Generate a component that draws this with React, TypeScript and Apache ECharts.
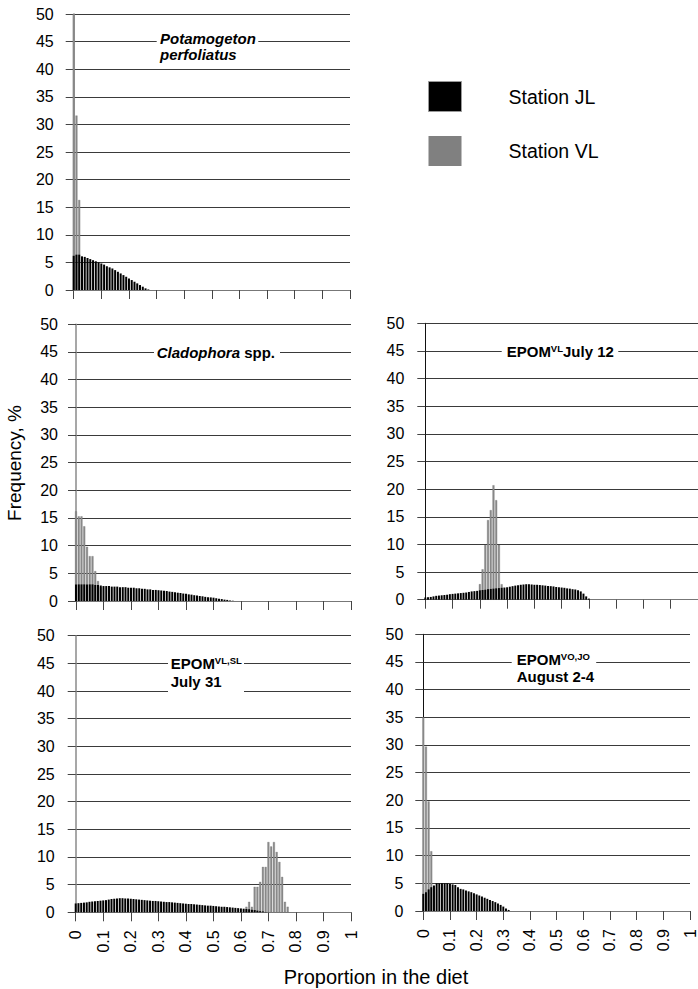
import React, { useEffect, useRef } from 'react';
import * as echarts from 'echarts';

const FONT = "'Liberation Sans', Arial, Helvetica, sans-serif";

// ---------- data (frequency, % per diet-proportion bin of 0.01) ----------
const seriesNames = ['Station JL', 'Station VL'];

// Potamogeton perfoliatus
const potamogetonJLStart = 0;
const potamogetonJL = [6.2, 6.4, 6.4, 6.1, 6.0, 5.8, 5.6, 5.4, 5.2, 5.0, 4.8, 4.6, 4.3, 4.1, 3.9, 3.6, 3.3, 3.0, 2.7, 2.4, 2.1, 1.8, 1.5, 1.2, 0.9, 0.6, 0.3, 0.1];
const potamogetonVLStart = 0;
const potamogetonVL = [50, 31.6, 16.3];

// Cladophora spp.
const cladophoraJLStart = 0;
const cladophoraJL = [3.0, 3.0, 3.0, 3.0, 3.0, 3.0, 3.0, 2.9, 2.9, 2.8, 2.7, 2.7, 2.7, 2.6, 2.6, 2.6, 2.5, 2.5, 2.5, 2.4, 2.4, 2.4, 2.3, 2.3, 2.2, 2.2, 2.1, 2.1, 2.0, 2.0, 1.95, 1.9, 1.85, 1.8, 1.7, 1.65, 1.6, 1.5, 1.45, 1.35, 1.3, 1.2, 1.15, 1.05, 1.0, 0.9, 0.85, 0.75, 0.7, 0.65, 0.6, 0.5, 0.4, 0.35, 0.25, 0.2, 0.1, 0.05];
const cladophoraVLStart = 0;
const cladophoraVL = [16.2, 15.3, 15.3, 13.5, 9.8, 8.1, 8.1, 5.4, 3.6, 2.5];

// EPOM VL July 12
const july12JLStart = 0;
const july12JL = [0.4, 0.45, 0.5, 0.6, 0.7, 0.75, 0.8, 0.85, 0.9, 1.0, 1.05, 1.1, 1.15, 1.2, 1.25, 1.3, 1.4, 1.5, 1.55, 1.6, 1.7, 1.75, 1.8, 1.9, 1.95, 2.0, 2.05, 2.1, 2.15, 2.2, 2.25, 2.35, 2.45, 2.55, 2.6, 2.7, 2.75, 2.8, 2.8, 2.75, 2.7, 2.7, 2.65, 2.6, 2.55, 2.5, 2.45, 2.4, 2.3, 2.25, 2.2, 2.15, 2.05, 2.0, 1.9, 1.85, 1.7, 1.5, 1.1, 0.6, 0.2];
const july12VLStart = 20;
const july12VL = [2.8, 5.5, 9.9, 14.4, 16.2, 20.7, 18.0, 9.9, 2.8];

// EPOM VL,SL July 31
const july31JLStart = 0;
const july31JL = [1.6, 1.65, 1.7, 1.75, 1.8, 1.9, 1.95, 2.0, 2.05, 2.1, 2.15, 2.2, 2.3, 2.4, 2.45, 2.5, 2.55, 2.55, 2.5, 2.5, 2.45, 2.4, 2.35, 2.3, 2.25, 2.2, 2.15, 2.1, 2.05, 2.05, 2.0, 1.95, 1.9, 1.85, 1.85, 1.8, 1.75, 1.7, 1.65, 1.6, 1.55, 1.5, 1.5, 1.45, 1.4, 1.35, 1.3, 1.25, 1.2, 1.2, 1.15, 1.1, 1.05, 1.0, 1.0, 0.95, 0.9, 0.85, 0.8, 0.75, 0.7, 0.65, 0.6, 0.55, 0.45, 0.4, 0.3, 0.2, 0.15, 0.05];
const july31VLStart = 62;
const july31VL = [1.0, 1.9, 1.0, 4.6, 4.6, 5.5, 8.2, 8.2, 12.7, 11.9, 12.7, 10.9, 9.1, 6.4, 1.9, 1.0];

// EPOM VO,JO August 2-4
const augustJLStart = 0;
const augustJL = [3.1, 3.4, 3.9, 4.3, 4.6, 5.0, 5.0, 5.0, 5.0, 5.0, 4.9, 4.8, 4.7, 4.3, 4.0, 3.9, 3.7, 3.55, 3.4, 3.2, 3.0, 2.8, 2.6, 2.4, 2.2, 2.0, 1.8, 1.6, 1.35, 1.1, 0.8, 0.45, 0.2];
const augustVLStart = 0;
const augustVL = [35.0, 29.7, 19.8, 10.8, 4.5];

const yTicks = { min: 0, max: 50, interval: 5 };
const xTicks = { min: 0, max: 1, interval: 0.1 };
const binsPerUnit = 100;

// ---------- layout ----------
const panels = [
  { left: 73.7, top: 14, width: 276.3, height: 276, labels: false, axisColor: '#8a8a8a', yMargin: 20,
    jl: potamogetonJL, jlStart: potamogetonJLStart, vl: potamogetonVL, vlStart: potamogetonVLStart },
  { left: 76, top: 324.3, width: 275, height: 276.7, labels: false, axisColor: '#8a8a8a', yMargin: 18,
    jl: cladophoraJL, jlStart: cladophoraJLStart, vl: cladophoraVL, vlStart: cladophoraVLStart },
  { left: 425.3, top: 323.3, width: 276.3, height: 276.4, labels: false, axisColor: '#111', yMargin: 21,
    jl: july12JL, jlStart: july12JLStart, vl: july12VL, vlStart: july12VLStart },
  { left: 75.7, top: 635.7, width: 275.3, height: 276.6, labels: true, axisColor: '#8a8a8a', yMargin: 21,
    jl: july31JL, jlStart: july31JLStart, vl: july31VL, vlStart: july31VLStart },
  { left: 423.3, top: 634.3, width: 275.8, height: 276.7, labels: true, axisColor: '#111', yMargin: 20,
    jl: augustJL, jlStart: augustJLStart, vl: augustVL, vlStart: augustVLStart },
];

const rich = {
  bi: { fontSize: 15, fontWeight: 'bold', fontStyle: 'italic', fontFamily: FONT, lineHeight: 16, fill: '#000' },
  b: { fontSize: 15, fontWeight: 'bold', fontFamily: FONT, lineHeight: 16, fill: '#000' },
  s: { fontSize: 9.5, fontWeight: 'bold', fontFamily: FONT, lineHeight: 8, verticalAlign: 'top', fill: '#000' },
};

const titles = [
  { box: [156.7, 33, 101.6, 31], lines: [[160, 38.5, '{bi|Potamogeton}'], [160, 54, '{bi|perfoliatus}']] },
  { box: [154, 345, 126, 14], lines: [[156.7, 352, '{bi|Cladophora}{b| spp.}']] },
  { box: [501.7, 344, 116.6, 14], lines: [[506.7, 351.5, '{b|EPOM}{s|VL}{b|July 12}']] },
  { box: [168, 655, 76, 39], lines: [[170.7, 663.5, '{b|EPOM}{s|VL,SL}'], [170.7, 681.5, '{b|July 31}']] },
  { box: [511.7, 652, 84.5, 33], lines: [[516.7, 659.5, '{b|EPOM}{s|VO,JO}'], [516.7, 676.5, '{b|August 2-4}']] },
];

function toPairs(values: number[], start: number) {
  return values.map((v, i) => [(start + i) / binsPerUnit, v]);
}

export default function App() {
  const ref = useRef<HTMLDivElement>(null);
  useEffect(() => {
    if (!ref.current) return;
    const chart = echarts.init(ref.current, undefined, { renderer: 'svg' });

    const grid = panels.map((p) => ({ left: p.left, top: p.top, width: p.width, height: p.height, containLabel: false }));
    const xAxis = panels.map((p, i) => ({
      type: 'value', gridIndex: i, min: xTicks.min, max: xTicks.max, interval: xTicks.interval,
      axisLine: { show: true, onZero: false, lineStyle: { color: '#777', width: 1 } },
      axisTick: { show: true, inside: false, length: 9, lineStyle: { color: '#444' } },
      axisLabel: {
        show: p.labels, rotate: 90, margin: 18, fontSize: 16, color: '#000', fontFamily: FONT,
        formatter: (v: number) => String(Math.round(v * 10) / 10),
      },
      splitLine: { show: false },
    }));
    const yAxis = panels.map((p, i) => ({
      type: 'value', gridIndex: i, min: yTicks.min, max: yTicks.max, interval: yTicks.interval,
      axisLine: { show: true, lineStyle: { color: p.axisColor, width: p.axisColor === '#111' ? 1 : 1.5 } },
      axisTick: { show: true, inside: false, length: 8, lineStyle: { color: '#444' } },
      axisLabel: { margin: p.yMargin, fontSize: 16, color: '#000', fontFamily: FONT },
      splitLine: { show: true, lineStyle: { color: '#3a3a3a', width: 1 } },
    }));
    const series: any[] = [];
    panels.forEach((p, i) => {
      series.push({
        type: 'bar', name: seriesNames[1], xAxisIndex: i, yAxisIndex: i,
        data: toPairs(p.vl, p.vlStart), barWidth: '72%', barGap: '-100%',
        itemStyle: { color: '#8c8c8c', borderColor: '#6e6e6e', borderWidth: 0.3 },
        clip: false,
      });
      series.push({
        type: 'bar', name: seriesNames[0], xAxisIndex: i, yAxisIndex: i,
        data: toPairs(p.jl, p.jlStart), barWidth: '72%', barGap: '-100%',
        itemStyle: { color: '#000' },
        clip: false,
      });
    });

    const graphic: any[] = [];
    titles.forEach((t) => {
      graphic.push({
        type: 'rect', z: 100, shape: { x: t.box[0], y: t.box[1], width: t.box[2], height: t.box[3] },
        style: { fill: '#fff' },
      });
      t.lines.forEach((l) => {
        graphic.push({
          type: 'text', z: 101, x: l[0] as number, y: l[1] as number,
          style: { text: l[2] as string, rich, verticalAlign: 'middle', align: 'left', fill: '#000' },
        });
      });
    });
    graphic.push({
      type: 'text', z: 101, x: 14, y: 463, rotation: Math.PI / 2,
      style: { text: 'Frequency, %', fontSize: 19, fontFamily: FONT, fill: '#000', align: 'center', verticalAlign: 'middle' },
    });
    graphic.push({
      type: 'text', z: 101, x: 376, y: 977,
      style: { text: 'Proportion in the diet', fontSize: 20, fontFamily: FONT, fill: '#000', align: 'center', verticalAlign: 'middle' },
    });

    chart.setOption({
      animation: false,
      backgroundColor: '#fff',
      textStyle: { fontFamily: FONT },
      grid, xAxis, yAxis, series, graphic,
      legend: {
        orient: 'vertical', left: 423, top: 76, itemWidth: 33, itemHeight: 30, itemGap: 24,
        icon: 'rect', selectedMode: false,
        data: [
          { name: seriesNames[0], itemStyle: { color: '#000', borderColor: '#999', borderWidth: 1 } },
          { name: seriesNames[1], itemStyle: { color: '#808080', borderWidth: 0 } },
        ],
        textStyle: { fontSize: 19.5, color: '#000', fontFamily: FONT, padding: [0, 0, 0, 42] },
      },
    });
    return () => chart.dispose();
  }, []);
  return <div ref={ref} style={{ position: 'absolute', left: 0, top: 0, width: 698, height: 989 }} />;
}
